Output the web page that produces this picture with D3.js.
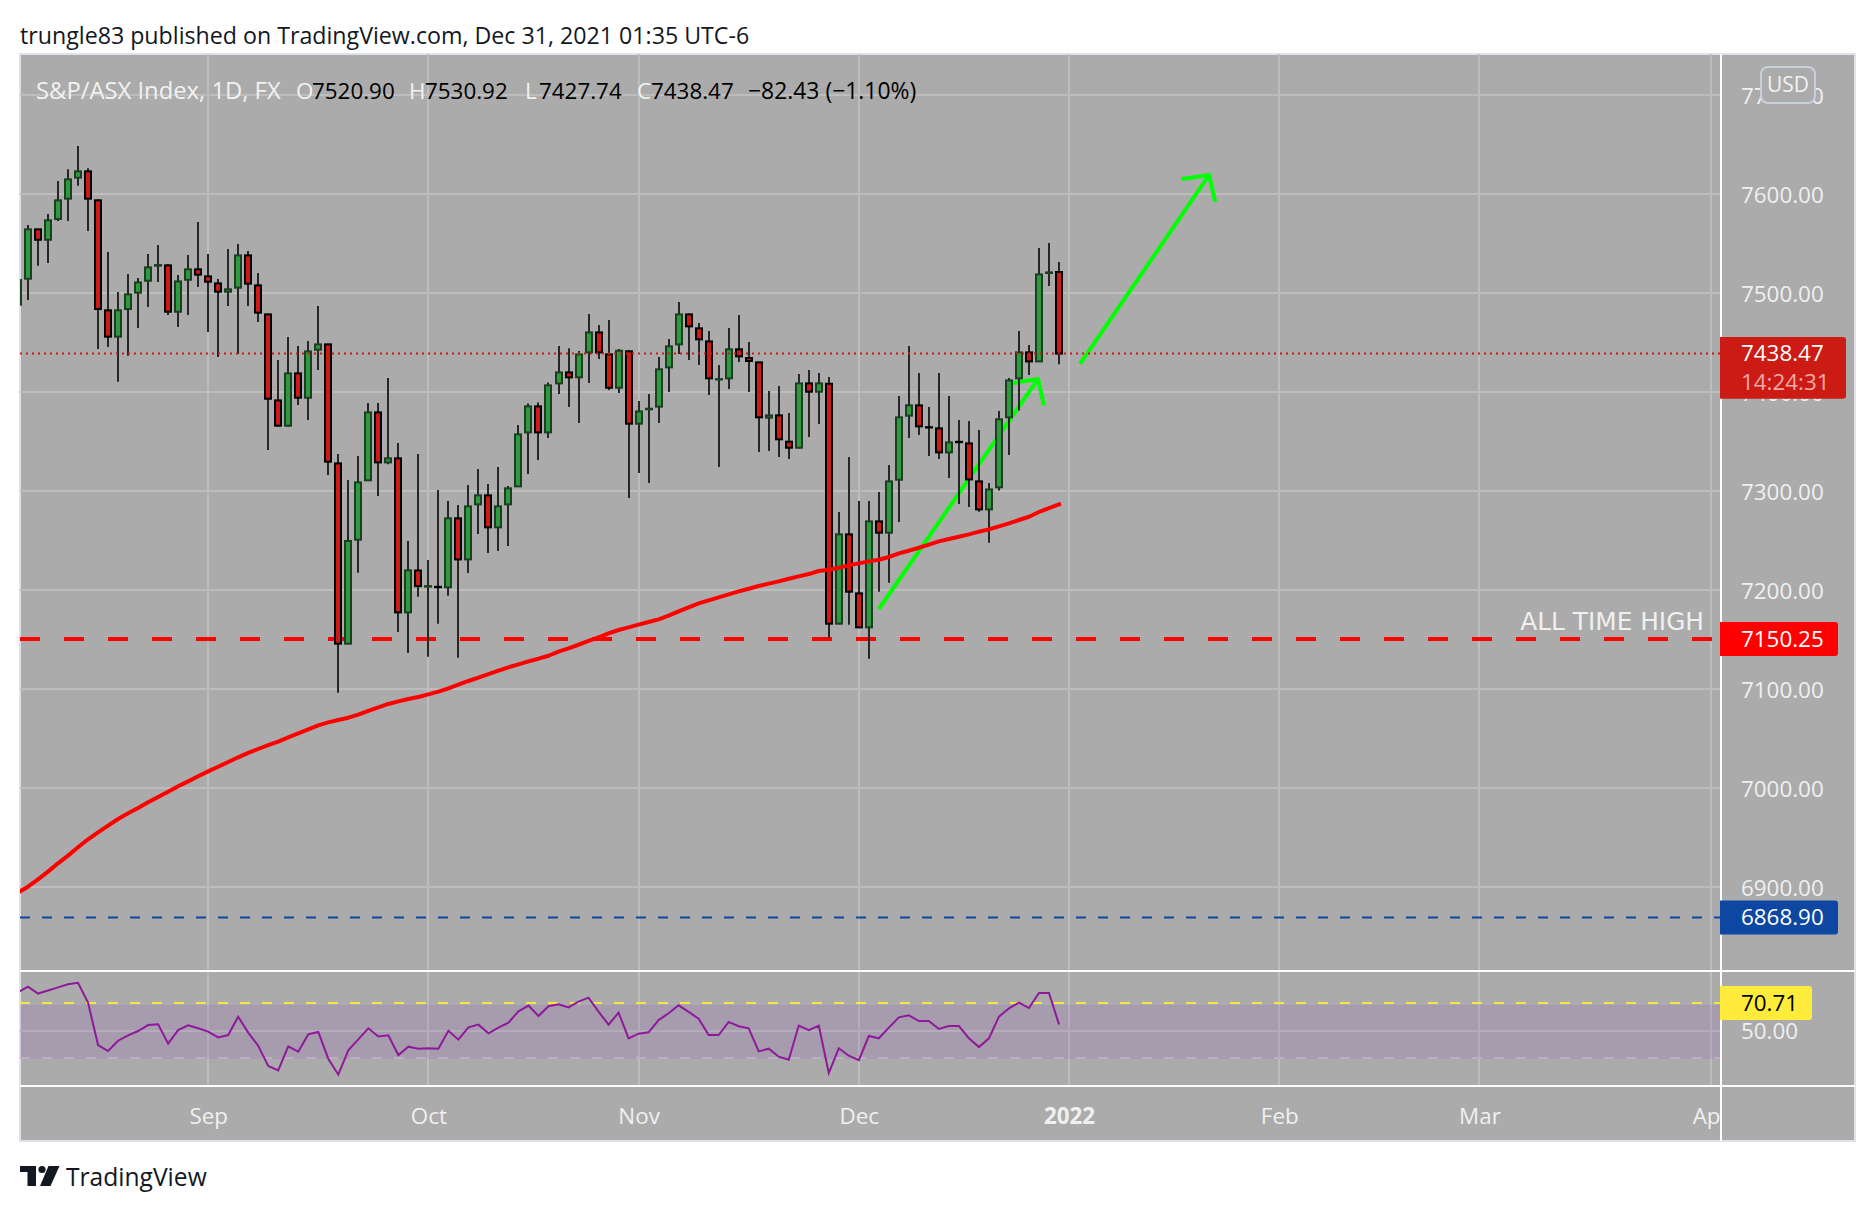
<!DOCTYPE html>
<html>
<head>
<meta charset="utf-8">
<script src="https://cdn.jsdelivr.net/npm/d3@7"></script>
<style>
  html, body { margin: 0; padding: 0; background: #fff; }
  svg { display: block; }
  text { font-family: "Open Sans", sans-serif; }
</style>
</head>
<body>
<svg id="chart" width="1876" height="1212"></svg>
<script>
// daily bars, first one sits just off the left edge (index -1)
const opens = [7487.9,7514.1,7564,7553.5,7574.4,7595,7616.2,7622.6,7593.3,7482.2,7455.6,7483.5,7500,7512.1,7527.3,7527.6,7480.8,7513.1,7523.6,7516.5,7509.4,7501,7505.1,7537.7,7507.4,7478.1,7391.2,7365.7,7418.5,7393.9,7442.4,7447.8,7327.6,7145.5,7250.5,7310.5,7379.1,7328.6,7332.7,7177.1,7219.4,7203.1,7202.9,7202.4,7272.1,7230.6,7286.2,7295.3,7263,7286.2,7304.4,7358.9,7385.2,7358.9,7408.4,7419.5,7414.5,7439.7,7459.9,7437.7,7404,7440.8,7367.7,7382.2,7384.9,7424.6,7447.8,7478.1,7464,7450.8,7412.3,7413.5,7442.8,7434,7429.6,7373.8,7376.1,7349.5,7343.4,7408.4,7400,7408,7165.7,7255.9,7196.3,7162,7269,7257.6,7311.1,7375.8,7386.2,7364.2,7363,7338.7,7349.4,7347.8,7309.4,7281.1,7303.4,7374.1,7413.5,7439.7,7430.6,7519.9,7520.9];
const highs = [7530,7568.4,7564.5,7579.5,7612.8,7624.6,7648.1,7625.6,7594.3,7541.1,7500.7,7518.9,7514.8,7539.1,7548.1,7529,7517.8,7538,7571.4,7539.1,7513.8,7544.1,7549.2,7542.1,7519.9,7479.1,7432,7455.2,7446.1,7451.2,7486.5,7448.5,7337.1,7310.8,7335,7388.6,7388.6,7413.8,7348.2,7249.2,7337,7230,7300.7,7289.6,7285.5,7305.7,7321.9,7306.7,7323.9,7304.7,7366.3,7388.2,7389.2,7409.4,7446.1,7443.8,7441.1,7478.5,7467.3,7472.4,7443.1,7442.1,7390.6,7397.7,7435,7453.2,7490.6,7479,7469.4,7461.3,7426.9,7464.3,7477.4,7450.2,7430.5,7400.7,7405.7,7378.5,7417.9,7421.9,7418.9,7414.8,7278.5,7334,7289.6,7289.6,7298.7,7325.9,7395.6,7446.1,7418.9,7384.5,7418.9,7395.6,7371.4,7370.4,7361.3,7307.7,7380.5,7413.8,7461.3,7447.1,7545.1,7550.2,7530.92];
const lows = [7480,7492.6,7527.3,7530,7572.4,7572.4,7608.1,7562.3,7443.1,7445.1,7410.1,7436.4,7464.3,7485.5,7510.8,7477.4,7465.3,7477.4,7505.7,7460.3,7435,7486.5,7438,7486.5,7470.4,7341.1,7364.6,7364.6,7386.5,7371.4,7421.9,7315.8,7096,7145,7217.2,7310.5,7294.6,7326.6,7157.3,7136,7192.9,7132.3,7165.7,7193.9,7131.3,7216.8,7256.2,7237,7239.1,7244.1,7304,7316.8,7331,7353.2,7397.6,7384.5,7368.4,7408.8,7433,7401.7,7398.7,7292.6,7317.9,7307.8,7368.4,7399.7,7438.1,7432,7426.9,7396.6,7323.9,7402.7,7430,7399.7,7339.1,7340.1,7334,7332,7342.8,7354.2,7367.5,7151.5,7165,7164.7,7161,7130.3,7198,7207.1,7268.4,7353.2,7356.2,7335,7332,7312.8,7286.5,7283.5,7278.8,7247.5,7300.3,7336,7381.1,7416.8,7430,7506.7,7427.74];
const closes = [7512.8,7564,7553.5,7573.1,7593.3,7614.5,7622.6,7595,7483.5,7455.6,7482.2,7498.3,7510.4,7525.6,7527.9,7480.8,7511.4,7523.6,7518.2,7511.1,7501,7503.4,7537.7,7509.1,7479.8,7392.9,7365.7,7418.5,7393.9,7440.7,7447.8,7329.3,7145.5,7249.2,7308.4,7379.1,7328.6,7332.7,7177.1,7219.6,7203.6,7203.6,7202.5,7272.1,7230.6,7284.2,7295.3,7263,7284.2,7302.4,7356.9,7385.2,7358.9,7406.4,7419.5,7414.5,7437.7,7459.9,7439.7,7404,7441.4,7367.7,7380.1,7382.8,7422.6,7445.8,7478.1,7466,7452.9,7413.5,7412.7,7442.8,7435.7,7431,7374.1,7376.1,7351.9,7343.4,7408.4,7400,7408.4,7165.7,7255.9,7198,7162,7269,7257.6,7309.4,7374.1,7386.2,7365,7363.8,7338.7,7348.8,7349,7311.4,7281.1,7301.3,7372.1,7411.4,7439.7,7430.6,7518.5,7520.5,7438.47];

// moving average, same bars
const movingAvg = [6894,6900,6907.4,6915.2,6923.6,6931.4,6939.8,6947.9,6954.9,6961.7,6968.4,6974.1,6979.5,6985.2,6990.6,6996,7001.4,7006.4,7011.5,7016.5,7021.2,7026,7030.7,7035.1,7039.1,7043.1,7046.5,7050.9,7054.9,7059,7063,7066,7068.4,7070.7,7073.8,7077.5,7081.2,7084.6,7087.2,7089.6,7091.6,7094.3,7097,7100.3,7104,7107.8,7111.1,7114.8,7118.2,7121.6,7124.6,7127.6,7130.3,7133.3,7137.4,7140.8,7144.4,7148.2,7151.9,7155.9,7159.3,7162,7164.7,7167.4,7170,7173.8,7178.1,7182.2,7186.2,7189.2,7192.3,7195.3,7198.3,7201,7203.7,7206.1,7208.4,7211.1,7213.5,7215.8,7218.9,7220.2,7222.2,7224.6,7226.6,7228.6,7230.3,7233,7236.7,7239.4,7242.4,7245.5,7248.8,7251.2,7253.5,7255.9,7258.6,7260.9,7264,7267,7270.4,7273.7,7278.5,7282.5,7286.2];

// rsi pane, same bars
const rsiValues = [78.6,82.8,77.7,79.9,82.3,84.6,85.6,71,39.6,35.2,42.8,46.8,50,54.4,54.9,40.6,50.7,54.2,52,49.5,45.3,47,60.6,48.8,39.1,24.1,20.9,38.6,34.7,47.5,49.3,29.5,17.7,35.7,43.8,52,46,46.8,32.2,38.4,36.9,37.2,36.9,50.2,43.6,52.7,54.7,48.3,52.5,56.2,64.6,68.8,61.1,68.3,69.8,67.5,71.7,74.7,64.3,54.7,63.6,44.6,48,49,58.1,63.1,69,64.1,59.1,47,47,56.7,53.5,52,34.9,36.9,31,28.8,54,50.7,54,18.9,37.2,31.7,28.5,46.3,44.6,52.5,60.1,61.6,57.4,57.4,51.5,53.7,53.7,44.6,38.1,44.6,60.6,66.8,71,67,78.1,78.1,54.9];

const priceTicks = [7700, 7600, 7500, 7400, 7300, 7200, 7100, 7000, 6900];
const monthTicks = [18, 40, 61, 83, 104, 125, 145, 168.1];
const monthLabels = ["Sep", "Oct", "Nov", "Dec", "2022", "Feb", "Mar", "Apr"];

const athLevel = 7150.25;
const supportLevel = 6868.9;
const lastClose = 7438.47;
const rsiLevel = 70.71;
const rsiBand = [69.3, 29.3];

// hand drawn arrows: [bar, price]
const arrowOne = [[85, 7180.5], [100.9, 7412.8]];
const arrowOneHead = [[98.4, 7408.8], [100.9, 7412.8], [101.5, 7385.9]];
const arrowTwo = [[105.1, 7428], [118, 7618.9]];
const arrowTwoHead = [[115.25, 7614.8], [118, 7618.9], [118.6, 7591.9]];

const bg = "#ababab", gridCol = "#bdbdbd", tickCol = "#f0f0f0";
const plotLeft = 20, plotRight = 1720, plotTop = 54, paneBottom = 970, rsiBottom = 1086, plotBottom = 1141, outerRight = 1855;

const bars = opens.map((o, i) => ({
  i: i - 1, o: o, h: highs[i], l: lows[i], c: closes[i], ma: movingAvg[i], rsi: rsiValues[i]
}));

const x = d3.scaleLinear().domain([0, 103]).range([27.98, 1059.01]);
const y = d3.scaleLinear().domain([7600, 6900]).range([193.7, 886.7]);
const rsiY = d3.scaleLinear().domain([50, 70.71]).range([1031, 1003]);

const svg = d3.select("#chart");
const defs = svg.append("defs");
defs.append("clipPath").attr("id", "main-clip").append("rect")
  .attr("x", plotLeft).attr("y", plotTop).attr("width", plotRight - plotLeft).attr("height", paneBottom - plotTop);
defs.append("clipPath").attr("id", "rsi-clip").append("rect")
  .attr("x", plotLeft).attr("y", paneBottom).attr("width", plotRight - plotLeft).attr("height", rsiBottom - paneBottom);
defs.append("clipPath").attr("id", "time-clip").append("rect")
  .attr("x", plotLeft).attr("y", 0).attr("width", plotRight - plotLeft).attr("height", plotBottom - rsiBottom);

svg.append("rect").attr("x", plotLeft).attr("y", plotTop).attr("width", outerRight - plotLeft).attr("height", plotBottom - plotTop)
  .attr("fill", bg).attr("stroke", "#dfe2ea").attr("stroke-width", 2);

// grid
const grid = svg.append("g").attr("stroke", gridCol).attr("stroke-width", 2);
grid.append("g").attr("clip-path", "url(#main-clip)").selectAll("line").data(priceTicks).enter().append("line")
  .attr("x1", plotLeft).attr("x2", plotRight)
  .attr("y1", (d) => Math.round(y(d))).attr("y2", (d) => Math.round(y(d)));
grid.append("g").selectAll("line").data(monthTicks).enter().append("line")
  .attr("x1", (d) => Math.round(x(d))).attr("x2", (d) => Math.round(x(d)))
  .attr("y1", plotTop).attr("y2", rsiBottom);
grid.append("line").attr("x1", plotLeft).attr("x2", plotRight)
  .attr("y1", rsiY(50)).attr("y2", rsiY(50));

// main pane
const main = svg.append("g").attr("clip-path", "url(#main-clip)");

main.append("line").attr("x1", plotLeft).attr("x2", plotRight)
  .attr("y1", y(athLevel)).attr("y2", y(athLevel))
  .attr("stroke", "#ff0000").attr("stroke-width", 4).attr("stroke-dasharray", "20 24");
main.append("line").attr("x1", plotLeft).attr("x2", plotRight)
  .attr("y1", y(supportLevel)).attr("y2", y(supportLevel))
  .attr("stroke", "#0d47a1").attr("stroke-width", 2).attr("stroke-dasharray", "10 12");

const arrowLine = d3.line().x((d) => x(d[0])).y((d) => y(d[1]));
[arrowOne, arrowOneHead, arrowTwo, arrowTwoHead].forEach((pts) => {
  main.append("path").attr("d", arrowLine(pts))
    .attr("fill", "none").attr("stroke", "#00ff00").attr("stroke-width", 4).attr("stroke-linejoin", "round");
});

const candle = main.selectAll("g.candle").data(bars).enter().append("g").attr("class", "candle")
  .attr("transform", (d) => "translate(" + Math.round(x(d.i)) + ",0)");
candle.append("line")
  .attr("y1", (d) => y(d.h)).attr("y2", (d) => y(d.l))
  .attr("stroke", "#262626").attr("stroke-width", 2);
candle.append("rect")
  .attr("x", -3).attr("width", 6)
  .attr("y", (d) => y(Math.max(d.o, d.c)))
  .attr("height", (d) => Math.abs(y(d.o) - y(d.c)))
  .attr("fill", (d) => (d.c >= d.o ? "#2e9a3f" : "#cc1a14"))
  .attr("stroke", (d) => (d.c >= d.o ? "#1b3f20" : "#000000"))
  .attr("stroke-width", 2);

main.append("path").datum(bars)
  .attr("d", d3.line().x((d) => x(d.i)).y((d) => y(d.ma)))
  .attr("fill", "none").attr("stroke", "#ff0000").attr("stroke-width", 4)
  .attr("stroke-linejoin", "round").attr("stroke-linecap", "square");

main.append("line").attr("x1", plotLeft).attr("x2", plotRight)
  .attr("y1", y(lastClose)).attr("y2", y(lastClose))
  .attr("stroke", "#cc1a14").attr("stroke-width", 2).attr("stroke-dasharray", "2 4");

main.append("text").attr("x", 1704).attr("y", y(athLevel) - 18).attr("dy", ".35em")
  .attr("text-anchor", "end").attr("fill", tickCol).attr("font-size", 24.8)
  .style("font-family", "'DejaVu Sans'").text("ALL TIME HIGH");

// rsi pane
const rsiPane = svg.append("g").attr("clip-path", "url(#rsi-clip)");
rsiPane.append("rect").attr("x", plotLeft).attr("width", plotRight - plotLeft)
  .attr("y", rsiY(rsiBand[0])).attr("height", rsiY(rsiBand[1]) - rsiY(rsiBand[0]))
  .attr("fill", "rgba(155,100,190,0.2)");
rsiPane.append("line").attr("x1", plotLeft).attr("x2", plotRight)
  .attr("y1", rsiY(rsiLevel)).attr("y2", rsiY(rsiLevel))
  .attr("stroke", "#f5e642").attr("stroke-width", 2).attr("stroke-dasharray", "10 12");
rsiPane.append("line").attr("x1", plotLeft).attr("x2", plotRight)
  .attr("y1", rsiY(30)).attr("y2", rsiY(30))
  .attr("stroke", "#bdaec6").attr("stroke-width", 2).attr("stroke-dasharray", "10 12");
rsiPane.append("path").datum(bars)
  .attr("d", d3.line().x((d) => x(d.i)).y((d) => rsiY(d.rsi)))
  .attr("fill", "none").attr("stroke", "#8e1a9a").attr("stroke-width", 2);

// price + rsi axes
const priceAxis = svg.append("g").attr("transform", "translate(" + plotRight + ",0)")
  .call(d3.axisRight(y).tickValues(priceTicks).tickFormat(d3.format(".2f")).tickSize(0).tickPadding(21));
const rsiAxis = svg.append("g").attr("transform", "translate(" + plotRight + ",0)")
  .call(d3.axisRight(rsiY).tickValues([50]).tickFormat(d3.format(".2f")).tickSize(0).tickPadding(21));
const timeAxis = svg.append("g").attr("transform", "translate(0," + rsiBottom + ")")
  .attr("clip-path", "url(#time-clip)")
  .call(d3.axisBottom(x).tickValues(monthTicks).tickFormat((d, i) => monthLabels[i]).tickSize(0).tickPadding(0));

[priceAxis, rsiAxis, timeAxis].forEach((ax) => {
  ax.select(".domain").remove();
  ax.selectAll("text").attr("fill", tickCol).attr("font-size", 22.4)
    .style("font-family", "'Open Sans'");
});
priceAxis.selectAll("text").attr("dy", ".4em");
timeAxis.selectAll("text").attr("y", 30).attr("dy", ".35em");
timeAxis.selectAll("text").filter((d, i) => monthLabels[i] === "2022").attr("font-weight", 700);

// pane separators
const seps = svg.append("g").attr("stroke", "#ffffff").attr("stroke-width", 2);
seps.append("line").attr("x1", plotLeft).attr("x2", outerRight).attr("y1", paneBottom + 1).attr("y2", paneBottom + 1);
seps.append("line").attr("x1", plotLeft).attr("x2", outerRight).attr("y1", rsiBottom).attr("y2", rsiBottom);
seps.append("line").attr("x1", plotRight + 1).attr("x2", plotRight + 1).attr("y1", plotTop).attr("y2", plotBottom);

// value tags on the scale
function tag(y0, y1, x1, fill) {
  svg.append("path")
    .attr("d", "M" + plotRight + "," + y0 + "H" + (x1 - 3) + "Q" + x1 + "," + y0 + " " + x1 + "," + (y0 + 3)
      + "V" + (y1 - 3) + "Q" + x1 + "," + y1 + " " + (x1 - 3) + "," + y1 + "H" + plotRight + "Z")
    .attr("fill", fill);
}
function tagText(val, cy, col) {
  svg.append("text").attr("x", 1741).attr("y", cy).attr("dy", ".35em")
    .attr("fill", col).attr("font-size", 22.4).text(val);
}
tag(337, 398.7, 1846, "#cc1a14");
tagText(d3.format(".2f")(lastClose), y(lastClose), "#ffffff");
tagText("14:24:31", 382, "#efaaa7");
tag(y(athLevel) - 17, y(athLevel) + 17, 1838, "#ff0000");
tagText(d3.format(".2f")(athLevel), y(athLevel), "#ffffff");
tag(y(supportLevel) - 17, y(supportLevel) + 17, 1838, "#0d47a1");
tagText(d3.format(".2f")(supportLevel), y(supportLevel), "#ffffff");
tag(rsiY(rsiLevel) - 17, rsiY(rsiLevel) + 17, 1812, "#ffeb3b");
tagText(d3.format(".2f")(rsiLevel), rsiY(rsiLevel), "#000000");

// currency badge
svg.append("rect").attr("x", 1761).attr("y", 67).attr("width", 54).attr("height", 36).attr("rx", 7)
  .attr("fill", bg).attr("stroke", "#c9cedb").attr("stroke-width", 2);
svg.append("text").attr("x", 1788).attr("y", 85).attr("dy", ".35em").attr("text-anchor", "middle")
  .attr("fill", "#f2f2f2").attr("font-size", 21).text("USD");

// legend row
const legendY = 91;
const legendBits = [
  ["S&P/ASX Index, 1D, FX", 36, "#f2f2f2", 23.8],
  ["O", 296, "#f2f2f2", 22.4], ["7520.90", 312, "#000000", 22.4],
  ["H", 409, "#f2f2f2", 22.4], ["7530.92", 425, "#000000", 22.4],
  ["L", 525, "#f2f2f2", 22.4], ["7427.74", 539, "#000000", 22.4],
  ["C", 637, "#f2f2f2", 22.4], ["7438.47", 651, "#000000", 22.4],
  ["−82.43 (−1.10%)", 748, "#000000", 22.9]
];
svg.append("g").selectAll("text").data(legendBits).enter().append("text")
  .attr("x", (d) => d[1]).attr("y", legendY).attr("dy", ".35em")
  .attr("fill", (d) => d[2]).attr("font-size", (d) => d[3]).text((d) => d[0]);

// header + footer
svg.append("text").attr("x", 20).attr("y", 36).attr("dy", ".35em")
  .attr("fill", "#131722").attr("font-size", 23.2)
  .text("trungle83 published on TradingView.com, Dec 31, 2021 01:35 UTC-6");

const logo = svg.append("g").attr("fill", "#131722");
logo.append("path").attr("d", "M20,1166H36V1186H27.5V1172H20Z");
logo.append("circle").attr("cx", 42).attr("cy", 1169.5).attr("r", 3.6);
logo.append("path").attr("d", "M48.5,1166H59.5L50.5,1186H40Z");
svg.append("text").attr("x", 66).attr("y", 1177).attr("dy", ".35em")
  .attr("fill", "#131722").attr("font-size", 24.6).text("TradingView");
</script>
</body>
</html>
